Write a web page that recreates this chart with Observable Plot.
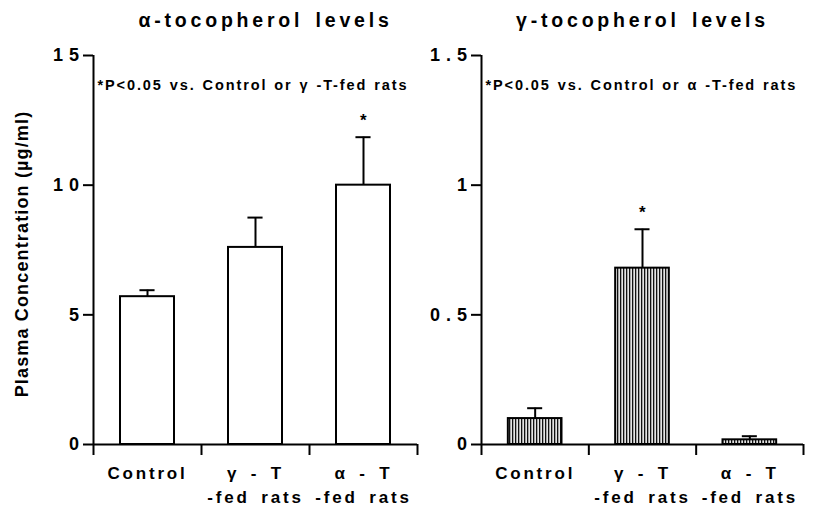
<!DOCTYPE html>
<html><head><meta charset="utf-8">
<script src="https://cdn.jsdelivr.net/npm/d3@7"></script>
<script src="https://cdn.jsdelivr.net/npm/@observablehq/plot@0.6"></script>
<style>
body{margin:0;background:#fff;}
#wrap{position:relative;width:813px;height:506px;overflow:hidden;}
.panel{position:absolute;top:0;}
g[aria-description="xlabels"] text{letter-spacing:2.8px;word-spacing:4px;}
g[aria-description="ptitle"] text{letter-spacing:3.8px;word-spacing:3px;}
g[aria-description="pnote"] text{letter-spacing:1.9px;word-spacing:1px;}
g[aria-description="ytitle"] text{letter-spacing:1.15px;}
</style></head><body>
<svg width="0" height="0" style="position:absolute"><defs>
<pattern id="stripes" patternUnits="userSpaceOnUse" width="3" height="6">
<rect width="3" height="6" fill="#e4e4e4"/><rect width="1.3" height="6" fill="#111"/>
</pattern></defs></svg>
<div id="wrap"></div>
<script>
const categories = ["Control", "γ - T\n-fed rats", "α - T\n-fed rats"];
const alphaMean = [5.7, 7.6, 10.0];
const alphaErr = [0.25, 1.15, 1.85];
const alphaSig = ["", "", "*"];
const gammaMean = [0.10, 0.68, 0.018];
const gammaErr = [0.04, 0.15, 0.014];
const gammaSig = ["", "*", ""];
const alphaTicks = [0, 5, 10, 15];
const alphaTickLabels = ["0", "5", "1 0", "1 5"];
const gammaTicks = [0, 0.5, 1, 1.5];
const gammaTickLabels = ["0", "0 . 5", "1", "1 . 5"];
const titles = ["α-tocopherol levels", "γ-tocopherol levels"];
const notes = ["*P<0.05 vs. Control or γ -T-fed rats", "*P<0.05 vs. Control or α -T-fed rats"];
const yTitle = "Plasma Concentration (µg/ml)";

function panel(o) {
  const data = categories.map((c, i) => ({i, c, m: o.means[i], e: o.errs[i], s: o.sigs[i]}));
  const marks = [
    Plot.rectY(data, {x1: d => d.i + 0.25, x2: d => d.i + 0.75, y1: 0, y2: "m", fill: o.fill, stroke: "black", strokeWidth: 2}),
    Plot.ruleX(data, {x: d => d.i + 0.5, y1: "m", y2: d => d.m + d.e, stroke: "black", strokeWidth: 2}),
    Plot.ruleY(data, {y: d => d.m + d.e, x1: d => d.i + 0.5 - 0.07, x2: d => d.i + 0.5 + 0.07, stroke: "black", strokeWidth: 2}),
    Plot.text(data, {x: d => d.i + 0.5, y: d => d.m + d.e, text: "s", dy: -17, fontSize: 17}),
    Plot.ruleX([0], {stroke: "black", strokeWidth: 2}),
    Plot.ruleY([0], {stroke: "black", strokeWidth: 2}),
    Plot.axisY({ticks: o.ticks, tickFormat: d => o.tickLabels[o.ticks.indexOf(d)], tickSize: 10, tickPadding: 4, fontSize: 18, strokeWidth: 2, label: null}),
    Plot.axisX({ticks: [0, 1, 2, 3], tickFormat: () => "", tickSize: 11, strokeWidth: 2, label: null}),
    Plot.text(data, {x: d => d.i + 0.5, text: "c", frameAnchor: "bottom", lineAnchor: "top", dy: 17, fontSize: 17, lineHeight: 1.42, ariaDescription: "xlabels"}),
    Plot.text([o.title], {frameAnchor: "top", lineAnchor: "middle", dy: -35, dx: o.titleDx, fontSize: 19.5, ariaDescription: "ptitle"}),
    Plot.text([o.note], {frameAnchor: "top-left", lineAnchor: "middle", textAnchor: "start", dx: 4, dy: 30, fontSize: 14.5, ariaDescription: "pnote"})
  ];
  if (o.yLabel) marks.push(Plot.text([o.yLabel], {frameAnchor: "left", textAnchor: "middle", lineAnchor: "middle", rotate: -90, dx: -71, dy: 4, fontSize: 18, ariaDescription: "ytitle"}));
  const p = Plot.plot({
    width: o.width, height: 506,
    marginLeft: o.marginLeft, marginRight: o.marginRight, marginTop: 55, marginBottom: 62,
    x: {domain: [0, 3], label: null},
    y: {domain: [0, o.ymax], label: null},
    style: {background: "transparent", fontFamily: "'Liberation Sans', Arial, sans-serif", fontWeight: "bold", letterSpacing: "0.5px", overflow: "visible"},
    marks
  });
  p.classList.add("panel");
  p.style.left = o.left + "px";
  document.getElementById("wrap").appendChild(p);
}

panel({means: alphaMean, errs: alphaErr, sigs: alphaSig, ticks: alphaTicks, tickLabels: alphaTickLabels, ymax: 15,
  title: titles[0], note: notes[0], fill: "white", width: 420, marginLeft: 93, marginRight: 3, left: 0, titleDx: 10, yLabel: yTitle});
panel({means: gammaMean, errs: gammaErr, sigs: gammaSig, ticks: gammaTicks, tickLabels: gammaTickLabels, ymax: 1.5,
  title: titles[1], note: notes[1], fill: "url(#stripes)", width: 403, marginLeft: 71, marginRight: 10, left: 410, titleDx: 0});
</script>
</body></html>
